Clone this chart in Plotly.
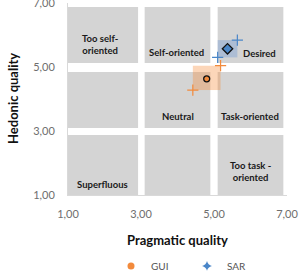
import plotly.graph_objects as go

# ---- data ----
x_ticks = [1, 3, 5, 7]
y_ticks = [1, 3, 5, 7]

zone_labels = ["Too self-<br>oriented", "Self-oriented", "Desired", "Neutral",
               "Task-oriented", "Superfluous", "Too task -<br>oriented"]
zone_label_x = [1.88, 3.96, 6.26, 4.01, 5.99, 1.94, 5.99]
zone_label_y = [5.69, 5.44, 5.41, 3.44, 3.44, 1.34, 1.72]

zone_x0 = [1.0, 3.1, 5.1]
zone_x1 = [2.92, 4.9, 6.9]
zone_y0 = [1.0, 3.09, 5.125]
zone_y1 = [2.875, 4.84, 6.875]

series = ["GUI", "SAR"]
pq_mean = [4.80, 5.37]
hq_mean = [4.63, 5.57]
pq_lo = [4.42, 5.10]
pq_hi = [5.18, 5.64]
hq_lo = [4.28, 5.30]
hq_hi = [5.04, 5.84]

# ---- styles ----
FONT = "Lato"
colors = ["#f28a3c", "#4a86c8"]
rect_fill = ["rgba(247,140,60,0.36)", "rgba(90,140,210,0.32)"]
symbols = ["circle", "diamond"]
legend_symbols = ["circle", "star-diamond"]

fig = go.Figure()

shapes = []
for xa, xb in zip(zone_x0, zone_x1):
    for ya, yb in zip(zone_y0, zone_y1):
        shapes.append(dict(type="rect", xref="x", yref="y", x0=xa, x1=xb, y0=ya, y1=yb,
                           fillcolor="#d4d4d4", line=dict(width=0), layer="below"))
for i in range(len(series)):
    shapes.append(dict(type="rect", xref="x", yref="y", x0=pq_lo[i], x1=pq_hi[i],
                       y0=hq_lo[i], y1=hq_hi[i], fillcolor=rect_fill[i],
                       line=dict(width=0), layer="below"))

for i, name in enumerate(series):
    fig.add_trace(go.Scatter(x=[pq_lo[i], pq_hi[i]], y=[hq_lo[i], hq_hi[i]], mode="markers",
                             marker=dict(symbol="cross-thin", size=8,
                                         line=dict(color=colors[i], width=1.2)),
                             showlegend=False, hoverinfo="skip"))
    fig.add_trace(go.Scatter(x=[pq_mean[i]], y=[hq_mean[i]], mode="markers",
                             marker=dict(symbol=symbols[i], size=6 if i == 0 else 8,
                                         color=colors[i], line=dict(color="#111111", width=1.3)),
                             showlegend=False))
    fig.add_trace(go.Scatter(x=[None], y=[None], mode="markers", name=name,
                             marker=dict(symbol=legend_symbols[i], size=7, color=colors[i])))

annotations = []
for t, x, y in zip(zone_labels, zone_label_x, zone_label_y):
    annotations.append(dict(x=x, y=y, xref="x", yref="y", text="<b>" + t + "</b>",
                            showarrow=False, font=dict(family=FONT, size=9.5, color="#1a1a1a")))
annotations.append(dict(x=0.5, y=0, xref="paper", yref="paper", yshift=-45, yanchor="middle",
                        text="<b>Pragmatic quality</b>", showarrow=False,
                        font=dict(family=FONT, size=13, color="#111111")))
annotations.append(dict(x=0, y=0.5, xref="paper", yref="paper", xshift=-55, xanchor="center",
                        text="<b>Hedonic quality</b>", textangle=-90, showarrow=False,
                        font=dict(family=FONT, size=13, color="#111111")))

fig.update_layout(
    width=300, height=275,
    margin=dict(l=68, r=13, t=3, b=80, autoexpand=False),
    paper_bgcolor="white", plot_bgcolor="white",
    separators=",.",
    font=dict(family=FONT, size=11, color="#6e6e6e"),
    shapes=shapes, annotations=annotations,
    showlegend=True,
    legend=dict(orientation="h", x=0.37, xref="container", y=0.033, yref="container",
                xanchor="left", yanchor="middle",
                font=dict(family=FONT, size=10, color="#555555"),
                entrywidth=31, itemwidth=30, bgcolor="rgba(0,0,0,0)"),
)
fig.update_xaxes(range=[1, 7], tickvals=x_ticks, tickformat=".2f", showgrid=False,
                 zeroline=False, showline=True, linecolor="#d9d9d9", linewidth=1,
                 ticks="", ticklabelstandoff=9, ticklabeloverflow="allow", fixedrange=True)
fig.update_yaxes(range=[1, 7], tickvals=y_ticks, tickformat=".2f", showgrid=False,
                 zeroline=False, showline=True, linecolor="#d9d9d9", linewidth=1,
                 ticks="", ticklabelstandoff=10, ticklabeloverflow="allow", fixedrange=True)

fig.write_html("out.html")
